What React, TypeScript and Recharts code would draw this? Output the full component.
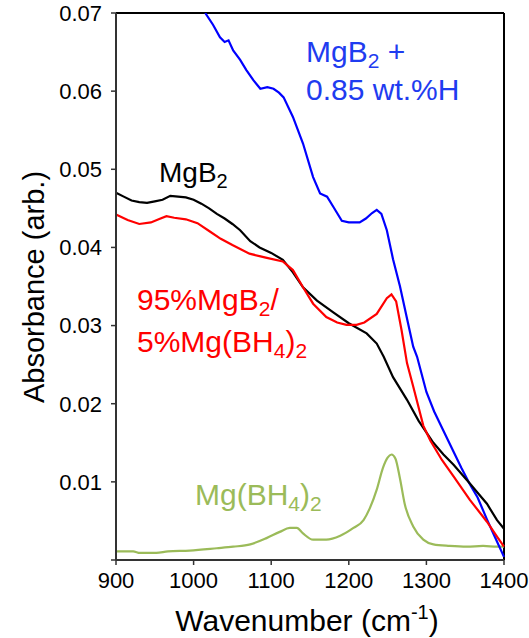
import React from 'react';
import { LineChart, Line, XAxis, YAxis, ReferenceLine } from 'recharts';

const FONT = '"Liberation Sans", Arial, Helvetica, sans-serif';

const xTicks = [900, 1000, 1100, 1200, 1300, 1400];
const yTicks = [0, 0.01, 0.02, 0.03, 0.04, 0.05, 0.06, 0.07];

const mgb2W = [900, 910, 920, 930, 940, 950, 960, 970, 980, 990, 1000, 1010, 1020, 1030, 1040, 1050, 1060, 1073, 1085, 1100, 1115, 1128, 1141, 1159, 1180, 1200, 1223, 1236, 1245, 1257, 1275, 1290, 1309, 1322, 1335, 1356, 1366, 1378, 1391, 1400];
const mgb2V = [0.047, 0.0465, 0.046, 0.0458, 0.0457, 0.0459, 0.0461, 0.0466, 0.0465, 0.0464, 0.0461, 0.0456, 0.045, 0.0443, 0.0437, 0.043, 0.0422, 0.0408, 0.04, 0.0393, 0.0384, 0.0368, 0.0349, 0.0332, 0.0317, 0.0303, 0.029, 0.0277, 0.026, 0.0234, 0.0205, 0.0178, 0.015, 0.0135, 0.0122, 0.0098, 0.0086, 0.0072, 0.0051, 0.004];

const mixW = [900, 915, 930, 945, 955, 965, 975, 990, 1005, 1020, 1035, 1050, 1072, 1093, 1115, 1128, 1141, 1154, 1171, 1185, 1197, 1210, 1220, 1236, 1249, 1255, 1261, 1268, 1275, 1283, 1296, 1305, 1320, 1335, 1356, 1378, 1391, 1400];
const mixV = [0.0442, 0.0435, 0.043, 0.0432, 0.0436, 0.044, 0.0438, 0.0436, 0.0431, 0.0421, 0.0411, 0.0403, 0.0392, 0.0387, 0.0382, 0.0371, 0.0349, 0.0328, 0.0311, 0.0304, 0.0301, 0.0301, 0.0304, 0.0315, 0.0335, 0.034, 0.0331, 0.0294, 0.0252, 0.0222, 0.0172, 0.0153, 0.0128, 0.0107, 0.0077, 0.0049, 0.003, 0.0017];

const hW = [1015, 1025, 1034, 1040, 1045, 1051, 1060, 1068, 1077, 1086, 1095, 1103, 1110, 1116, 1128, 1141, 1154, 1163, 1172, 1180, 1191, 1200, 1214, 1222, 1230, 1236, 1242, 1249, 1257, 1266, 1275, 1283, 1288, 1300, 1310, 1328, 1345, 1356, 1366, 1378, 1388, 1400];
const hV = [0.07, 0.0685, 0.0669, 0.0663, 0.0665, 0.0652, 0.064, 0.0627, 0.0614, 0.0603, 0.0605, 0.0603, 0.0598, 0.0592, 0.0567, 0.0533, 0.049, 0.0469, 0.0465, 0.0452, 0.0434, 0.0432, 0.0432, 0.0437, 0.0444, 0.0448, 0.0443, 0.0422, 0.0385, 0.035, 0.0309, 0.0273, 0.026, 0.0215, 0.019, 0.0153, 0.0118, 0.0097, 0.008, 0.0052, 0.003, 0.0004];

const bh4W = [900, 922, 931, 952, 967, 995, 1030, 1051, 1073, 1094, 1111, 1124, 1133, 1141, 1154, 1171, 1189, 1206, 1219, 1227, 1236, 1244, 1250, 1255, 1260, 1266, 1272, 1283, 1296, 1309, 1330, 1352, 1373, 1391, 1400];
const bh4V = [0.0011, 0.0011, 0.0009, 0.0009, 0.0011, 0.0012, 0.0015, 0.0017, 0.002, 0.0028, 0.0036, 0.0041, 0.0041, 0.0034, 0.0026, 0.0026, 0.0031, 0.0041, 0.0051, 0.0066, 0.009, 0.0118, 0.0131, 0.0135, 0.013, 0.0104, 0.0072, 0.0043, 0.0026, 0.002, 0.0018, 0.0017, 0.0018, 0.0017, 0.0017];

const toData = (w: number[], v: number[]) => w.map((x, i) => ({ w: x, v: v[i] }));

const mgb2Data = toData(mgb2W, mgb2V);
const mixData = toData(mixW, mixV);
const hData = toData(hW, hV);
const bh4Data = toData(bh4W, bh4V);

const AXIS = '#333333';
const BLUE = '#0000ff';
const RED = '#ff0000';
const GREEN = '#9bbb59';

export default function App() {
  return (
    <div style={{ position: 'absolute', left: 0, top: 0, width: 529, height: 638, background: '#fff' }}>
      <LineChart width={529} height={638} margin={{ top: 13, right: 25, bottom: 38, left: 0 }}>
        <XAxis
          type="number"
          dataKey="w"
          domain={[900, 1400]}
          ticks={xTicks}
          allowDuplicatedCategory={false}
          height={40}
          axisLine={{ stroke: AXIS, strokeWidth: 2 }}
          tickLine={{ stroke: AXIS, strokeWidth: 1.5 }}
          tickSize={5}
          tickMargin={7}
          tick={{ fill: '#000', fontSize: 22, fontFamily: FONT }}
        />
        <YAxis
          type="number"
          domain={[0, 0.07]}
          ticks={yTicks}
          allowDataOverflow
          width={116}
          axisLine={{ stroke: AXIS, strokeWidth: 2 }}
          tickLine={{ stroke: AXIS, strokeWidth: 1.5 }}
          tickSize={5}
          tickMargin={9}
          tickFormatter={(v: number) => (v === 0 ? '' : v.toFixed(2))}
          tick={{ fill: '#000', fontSize: 22, fontFamily: FONT }}
        />
        <ReferenceLine y={0.07} stroke="#000" strokeWidth={2} />
        <ReferenceLine x={1400} stroke="#000" strokeWidth={2} />
        <Line data={bh4Data} dataKey="v" stroke={GREEN} strokeWidth={2.2} dot={false} isAnimationActive={false} type="monotone" />
        <Line data={hData} dataKey="v" stroke={BLUE} strokeWidth={2.2} dot={false} isAnimationActive={false} type="linear" />
        <Line data={mgb2Data} dataKey="v" stroke="#000" strokeWidth={2.2} dot={false} isAnimationActive={false} type="linear" />
        <Line data={mixData} dataKey="v" stroke={RED} strokeWidth={2.2} dot={false} isAnimationActive={false} type="linear" />
      </LineChart>
      <svg width={529} height={638} style={{ position: 'absolute', left: 0, top: 0, pointerEvents: 'none' }} fontFamily={FONT}>
        <text x={159} y={182} fontSize={28} fill="#000">
          MgB<tspan fontSize={20} dy={6}>2</tspan>
        </text>
        <text x={306} y={62} fontSize={30} fill="#1f3cf0">
          MgB<tspan fontSize={21} dy={6}>2</tspan><tspan dy={-6}> +</tspan>
        </text>
        <text x={306} y={100} fontSize={30} fill="#1f3cf0">0.85 wt.%H</text>
        <text x={137} y={310} fontSize={30} fill={RED}>
          95%MgB<tspan fontSize={21} dy={6}>2</tspan><tspan dy={-6}>/</tspan>
        </text>
        <text x={137} y={352} fontSize={30} fill={RED}>
          5%Mg(BH<tspan fontSize={21} dy={6}>4</tspan><tspan dy={-6}>)</tspan><tspan fontSize={21} dy={6}>2</tspan>
        </text>
        <text x={195} y={505} fontSize={30} fill={GREEN}>
          Mg(BH<tspan fontSize={21} dy={6}>4</tspan><tspan dy={-6}>)</tspan><tspan fontSize={21} dy={6}>2</tspan>
        </text>
        <text x={307} y={631} fontSize={30} fill="#000" textAnchor="middle">
          Wavenumber (cm<tspan fontSize={20} dy={-12}>-1</tspan><tspan dy={12}>)</tspan>
        </text>
        <text x={44} y={287} fontSize={29} fill="#000" textAnchor="middle" transform="rotate(-90 44 287)">
          Absorbance (arb.)
        </text>
      </svg>
    </div>
  );
}
